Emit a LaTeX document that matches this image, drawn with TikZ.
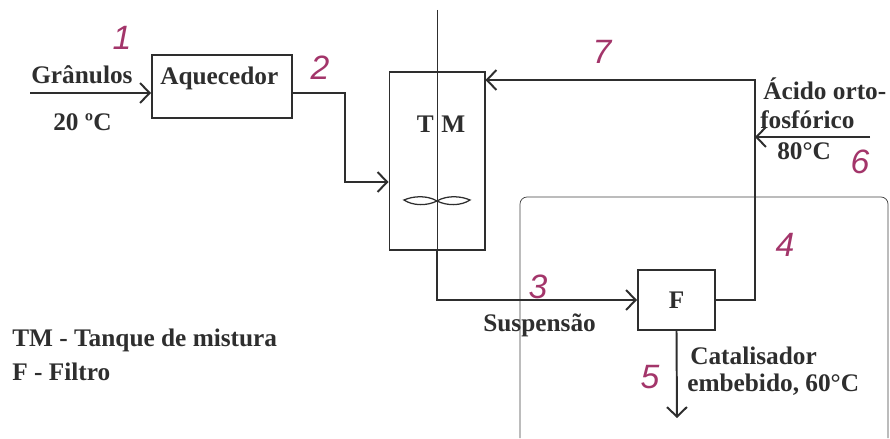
\documentclass[tikz,border=0pt]{standalone}
\usepackage{fontspec}
\setmainfont{Liberation Serif}
\newfontfamily\handfont{Liberation Sans}
\usetikzlibrary{arrows.meta,positioning,calc}
\definecolor{inkred}{HTML}{A3356A}
\definecolor{linegray}{HTML}{2E2E2E}

\begin{document}
\begin{tikzpicture}[
  x=0.025cm, y=-0.025cm,
  unit/.style={draw=linegray, line width=1.4pt, inner sep=0pt},
  flow/.style={draw=linegray, line width=1.4pt},
  arr/.style={flow, -{Straight Barb[length=2.4mm,width=5mm]}},
  lbl/.style={font=\bfseries\fontsize{18}{21}\selectfont, text=linegray, inner sep=0pt},
  num/.style={font=\handfont\itshape\fontsize{24}{26}\selectfont, text=inkred, inner sep=0pt}
]
  \useasboundingbox (0,0) rectangle (890,439);
  % scanned page frame
  \draw[black!75, line width=0.5pt, rounded corners=5pt] (520,438) -- (520,197) -- (888,197) -- (888,438);

  % units
  \node[unit, minimum width=3.5cm, minimum height=1.575cm] (aq) at (222,86.5) {};
  \node[unit, minimum width=2.375cm, minimum height=4.45cm] (tm) at (437,161) {};
  \node[unit, lbl, minimum width=1.925cm, minimum height=1.5cm] (f) at (676.5,300) {F};

  % stirrer
  \coordinate (shtop) at (437,10);
  \coordinate (shbot) at (437,258);
  \draw[linegray, line width=0.7pt] (shtop) -- (shbot);
  \begin{scope}[shift={(437,201)}]
    \draw[linegray, line width=0.9pt] (0,0) .. controls (-10,-6) and (-24,-5) .. (-33,-1) .. controls (-24,5) and (-10,5) .. (0,0)
      .. controls (10,-6) and (24,-5) .. (33,-1) .. controls (24,5) and (10,5) .. (0,0);
  \end{scope}

  % streams
  \coordinate (gin) at (30,93);
  \coordinate (s2) at (345,182);
  \coordinate (s4) at (755,80);
  \coordinate (acin) at (870,137);
  \coordinate (s5) at (677,418);
  \draw[arr] (gin) -- (gin -| aq.west);
  \draw[arr] (aq.east |- gin) -| (s2) -- (s2 -| tm.west);
  \draw[arr] (tm.south) |- (f.west);
  \draw[arr] (f.east) -| (s4) -- (s4 -| tm.east);
  \draw[arr] (acin) -- (acin -| s4);
  \draw[arr] (f.south) -- (s5);

  % texts
  \node[lbl, anchor=base west] (aqtxt) at (160,85) {Aquecedor};
  \node[lbl, anchor=base east] (tmT) at (434,133) {T};
  \node[lbl, anchor=base west] (tmM) at (441,133) {M};
  \node[lbl, anchor=base west] (gran) at (31,84) {Grânulos};
  \node[lbl, anchor=base west] (t20) at (53,131) {20 ºC};
  \node[lbl, anchor=base west] (susp) at (483,332) {Suspensão};
  \node[lbl, anchor=base west] (acid1) at (763,100) {Ácido orto-};
  \node[lbl, anchor=base west] (acid2) at (760,129) {fosfórico};
  \node[lbl, anchor=base west] (acid3) at (777,160) {80°C};
  \node[lbl, anchor=base west] (cat1) at (690,365) {Catalisador};
  \node[lbl, anchor=base west] (cat2) at (687,392) {embebido, 60°C};
  \node[lbl, anchor=base west] (leg1) at (12,347) {TM - Tanque de mistura};
  \node[lbl, anchor=base west] (leg2) at (12,380) {F - Filtro};

  % stream numbers
  \node[num] (n1) at (122,38) {1};
  \node[num] (n2) at (320,68) {2};
  \node[num] (n7) at (602,52) {7};
  \node[num] (n6) at (860,162) {6};
  \node[num] (n4) at (785,245) {4};
  \node[num] (n3) at (538,287) {3};
  \node[num] (n5) at (650,377) {5};
\end{tikzpicture}
\end{document}
